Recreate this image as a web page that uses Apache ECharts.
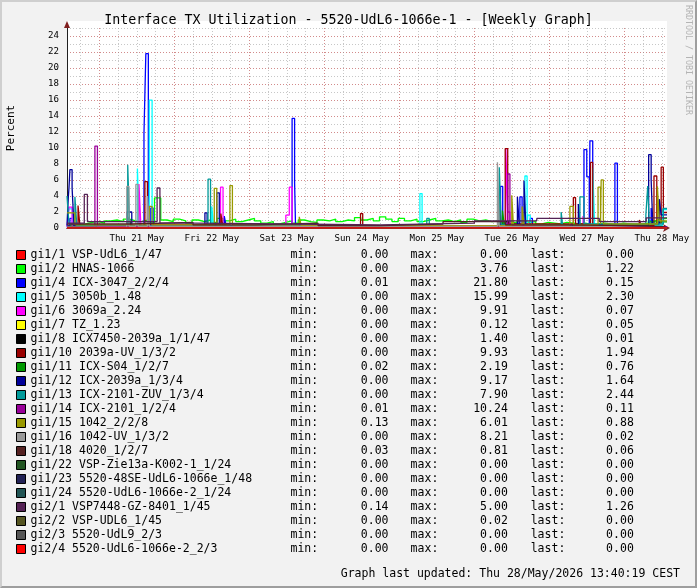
<!DOCTYPE html>
<html>
<head>
<meta charset="utf-8">
<script src="https://cdn.jsdelivr.net/npm/echarts@6/dist/echarts.min.js"></script>
<style>
html,body{margin:0;padding:0;background:#f2f2f2;}
#wrap{position:relative;width:697px;height:588px;}
#chart{width:697px;height:588px;}
#frame{position:absolute;left:0;top:0;width:697px;height:588px;box-sizing:border-box;border-style:solid;border-width:2px;border-color:#cfcfcf #9e9e9e #9e9e9e #cfcfcf;pointer-events:none;}
</style>
</head>
<body>
<div id="wrap"><div id="chart"></div><div id="frame"></div></div>
<script>
// x values are hours from Thu 21 May 00:00
const X_MIN = -10.33, X_MAX = 181.67
const dayLabels = ['Thu 21 May','Fri 22 May','Sat 23 May','Sun 24 May','Mon 25 May','Tue 26 May','Wed 27 May','Thu 28 May']
const noonHours = [12,36,60,84,108,132,156,180]
const midnightHours = [0,24,48,72,96,120,144,168]
const sixHourTicks = [-6,0,6,12,18,24,30,36,42,48,54,60,66,72,78,84,90,96,102,108,114,120,126,132,138,144,150,156,162,168,174,180]
const yLabelValues = [0,2,4,6,8,10,12,14,16,18,20,22,24]
const yMinorValues = [0,1,2,3,4,5,6,7,8,9,10,11,12,13,14,15,16,17,18,19,20,21,22,23,24,25]

const seriesNames = [
    'gi1/1 VSP-UdL6_1/47','gi1/2 HNAS-1066','gi1/4 ICX-3047_2/2/4','gi1/5 3050b_1.48',
    'gi1/6 3069a_2.24','gi1/7 TZ_1.23','gi1/8 ICX7450-2039a_1/1/47','gi1/10 2039a-UV_1/3/2',
    'gi1/11 ICX-S04_1/2/7','gi1/12 ICX-2039a_1/3/4','gi1/13 ICX-2101-ZUV_1/3/4','gi1/14 ICX-2101_1/2/4',
    'gi1/15 1042_2/2/8','gi1/16 1042-UV_1/3/2','gi1/18 4020_1/2/7','gi1/22 VSP-Zie13a-K002-1_1/24',
    'gi1/23 5520-48SE-UdL6-1066e_1/48','gi1/24 5520-UdL6-1066e-2_1/24','gi2/1 VSP7448-GZ-8401_1/45',
    'gi2/2 VSP-UDL6_1/45','gi2/3 5520-UdL9_2/3','gi2/4 5520-UdL6-1066e-2_2/3'
]
const seriesColors = [
    '#ff0000','#00ff00','#0000ff','#00ffff','#ff00ff','#ffff00','#000000','#990000',
    '#009900','#000099','#009999','#990099','#999900','#999999','#552222','#225522',
    '#222255','#225555','#552255','#555522','#555555','#ff0000'
]
const minText  = ['0.00','0.00','0.01','0.00','0.00','0.00','0.00','0.00','0.02','0.00','0.00','0.01','0.13','0.00','0.03','0.00','0.00','0.00','0.14','0.00','0.00','0.00']
const maxText  = ['0.00','3.76','21.80','15.99','9.91','0.12','1.40','9.93','2.19','9.17','7.90','10.24','6.01','8.21','0.81','0.00','0.00','0.00','5.00','0.02','0.00','0.00']
const lastText = ['0.00','1.22','0.15','2.30','0.07','0.05','0.01','1.94','0.76','1.64','2.44','0.11','0.88','0.02','0.06','0.00','0.00','0.00','1.26','0.00','0.00','0.00']

// gi1/2 read every 2 hours from the start of the graph
const greenStart = -10.33
const greenValues = [
    0.3,0.4,0.5,0.7,0.8,0.6,0.9,1.0,0.8,1.1,0.9,0.8,1.0,0.7,3.76,1.0,0.8,1.1,
    0.9,0.6,1.0,0.8,1.0,0.7,1.2,0.9,1.1,0.8,1.0,1.2,0.9,0.6,0.8,0.5,0.7,0.9,0.6,1.0,
    0.8,0.7,1.0,0.9,1.1,0.8,1.0,0.9,1.3,1.0,1.2,0.9,1.4,1.1,0.8,1.2,0.9,1.1,0.8,1.0,
    1.2,0.9,1.0,0.8,1.0,0.7,1.1,0.9,1.0,0.8,0.9,0.7,0.8,0.6,0.9,0.7,0.8,0.5,0.7,0.6,
    0.5,0.7,0.6,0.5,0.6,0.4,0.5,0.6,0.5,0.4,0.6,0.5,0.4,0.5,0.6,0.9,1.1,1.22
]

// other interfaces: [hour, value] where the value changes
const zeroLine = [[-10.33,0],[181.67,0]]
const gi1_4 = [[-10.33,0.3],[-9.4,1.2],[-8.6,0.2],[14.3,11.8],[14.9,21.8],[15.7,0.4],[16.5,2.5],[17.2,0.3],[40,1.5],[40.6,0.2],[61.7,13.7],[62.5,5.7],[62.8,0.2],[128.4,5.2],[129.1,0.5],[134.6,3.9],[135.3,0.3],[137.9,1.2],[138.6,0.2],[155.1,9.8],[156.0,6.4],[156.8,0.4],[157.0,10.9],[157.9,0.3],[165.0,8.1],[165.8,0.2],[176.6,2.5],[177.1,0.15],[181.67,0.15]]
const gi1_5 = [[-10.33,0.1],[-9.7,2.4],[-8.6,0.2],[12.2,7.45],[12.8,0.3],[16.0,15.99],[16.9,0.3],[36.0,2.7],[36.6,0.2],[102.6,4.3],[103.3,0.1],[136.2,6.5],[136.9,0.3],[137.1,1.6],[137.9,0.2],[157.9,7.5],[158.5,0.3],[180.2,2.3],[181.67,2.3]]
const gi1_6 = [[-10.33,0.1],[-9.7,2.6],[-8.7,0.2],[12.7,5.5],[13.3,0.3],[38.8,5.1],[39.6,0.2],[59.7,1.6],[60.8,5.1],[61.7,0.1],[130.1,9.91],[130.7,2.0],[131.4,0.3],[154.8,1.5],[155.4,0.1],[170,0.07],[181.67,0.07]]
const gi1_7 = [[-10.33,0.05],[40,0.12],[41,0.04],[181.67,0.05]]
const gi1_8 = [[-10.33,0.1],[9.5,1.4],[10.1,0.2],[130,0.8],[131,0.1],[180,0.01],[181.67,0.01]]
const gi1_10 = [[-10.33,0.2],[-6.8,2.8],[-6.2,0.3],[14.6,5.8],[15.4,0.4],[38.9,1.8],[39.5,0.3],[83.6,1.8],[84.3,0.2],[128.0,3.5],[128.6,0.4],[129.9,9.93],[130.7,0.5],[151.7,3.8],[152.4,0.5],[157.2,8.2],[157.9,0.4],[172.8,1.0],[173.4,0.3],[177.5,6.5],[178.4,0.6],[179.8,7.6],[180.5,1.94],[181.67,1.94]]
const gi1_11 = [[-10.33,0.2],[20,0.4],[60,0.2],[100,0.3],[129.0,2.19],[129.6,0.4],[160,0.3],[176,0.76],[181.67,0.76]]
const gi1_12 = [[-10.33,0.3],[-9.9,3.9],[-9.7,5.0],[-9.4,7.3],[-8.7,5.0],[-8.1,0.3],[8.8,2.0],[10.4,0.3],[33.8,1.9],[34.5,0.2],[37.6,4.4],[38.4,0.3],[133.8,3.9],[134.4,0.3],[135.9,5.9],[136.5,0.3],[153.3,3.0],[153.8,0.4],[175.8,9.17],[176.6,6.0],[177.1,0.5],[179.2,3.6],[179.8,1.64],[181.67,1.64]]
const gi1_13 = [[-10.33,4.0],[-9.7,0.5],[-7.8,3.9],[-7.2,0.3],[9.1,7.9],[9.7,0.3],[34.8,6.1],[35.6,0.3],[104.8,1.2],[105.6,0.1],[128.0,7.6],[128.6,0.4],[147.8,2.0],[148.3,0.2],[153.8,3.9],[155.1,0.5],[174.9,1.6],[175.5,5.25],[176.0,0.5],[180.5,2.44],[181.67,2.44]]
const gi1_14 = [[-10.33,0.1],[-1.4,10.24],[-0.6,0.2],[130.7,6.75],[131.4,0.3],[150,0.5],[151,0.1],[170,0.11],[181.67,0.11]]
const gi1_15 = [[-10.33,1.9],[-7.8,0.4],[16.0,2.7],[16.9,0.4],[36.8,4.96],[37.6,0.4],[41.8,5.3],[42.6,0.4],[64.0,1.4],[64.6,0.3],[132.0,4.1],[132.5,0.4],[135.3,2.7],[135.9,0.4],[150.6,2.7],[151.7,0.4],[159.6,5.1],[160.4,0.5],[160.6,6.01],[161.3,0.5],[178.6,5.2],[179.2,0.88],[181.67,0.88]]
const gi1_16 = [[-10.33,0.1],[8.8,5.2],[9.5,0.2],[11.7,5.45],[12.4,0.2],[15.4,4.0],[16.0,0.2],[127.4,8.21],[128.0,0.2],[160,0.02],[181.67,0.02]]
const gi1_18 = [[-10.33,0.5],[10,0.7],[30,0.4],[50,0.6],[70,0.3],[90,0.5],[110,0.8],[130,0.4],[150,0.3],[170,0.2],[180,0.06],[181.67,0.06]]
const gi2_1 = [[-10.33,0.6],[-4.8,4.2],[-3.8,0.8],[18.5,5.0],[19.4,0.6],[30,0.5],[60,0.4],[90,0.6],[120,0.9],[140,1.2],[160,0.8],[175,1.26],[181.67,1.26]]
const gi2_2 = [[-10.33,0],[100,0.02],[101,0],[181.67,0]]

const gi1_2 = greenValues.map((v, i) => [greenStart + 2 * i, v]).concat([[X_MAX, 1.22]])

const seriesData = [
    zeroLine, gi1_2, gi1_4, gi1_5, gi1_6, gi1_7, gi1_8, gi1_10, gi1_11, gi1_12, gi1_13,
    gi1_14, gi1_15, gi1_16, gi1_18, zeroLine, zeroLine, zeroLine, gi2_1, gi2_2, zeroLine, zeroLine
]

const FONT = 'DejaVu Sans Mono'
const gridGrey = 'rgba(143,143,143,0.5)'
const gridRed = 'rgba(222,79,79,0.5)'
const arrowRed = '#801f1f'

const chart = echarts.init(document.getElementById('chart'))
chart.setOption({
    animation: false,
    backgroundColor: '#f2f2f2',
    title: {
        text: 'Interface TX Utilization - 5520-UdL6-1066e-1 - [Weekly Graph]',
        left: 'center',
        top: 14,
        padding: 0,
        textStyle: { fontFamily: FONT, fontSize: 13.3, fontWeight: 'normal', color: '#000' }
    },
    grid: {
        left: 67, right: 30, top: 28, bottom: 360,
        show: true, backgroundColor: '#fff', borderWidth: 0,
        outerBoundsMode: 'none'
    },
    xAxis: [{
        type: 'value', min: X_MIN, max: X_MAX,
        axisLine: { show: true, onZero: false, lineStyle: { color: '#1f1f1f', width: 1 } },
        axisTick: { show: false, customValues: sixHourTicks },
        splitLine: { show: true, lineStyle: { color: gridGrey, type: [1, 2], width: 1 } },
        axisLabel: {
            customValues: noonHours,
            formatter: v => dayLabels[noonHours.indexOf(Math.round(v))],
            fontFamily: FONT, fontSize: 9.1, color: '#000', margin: 6
        }
    }, {
        type: 'value', min: X_MIN, max: X_MAX, position: 'bottom',
        axisLine: { show: true, onZero: false, symbol: ['none', 'arrow'], symbolSize: [6, 7], symbolOffset: [0, 3], lineStyle: { color: arrowRed, width: 1 } },
        axisTick: { show: false, customValues: midnightHours },
        axisLabel: { show: false },
        splitLine: { show: true, lineStyle: { color: gridRed, type: [1, 2], width: 1 } }
    }],
    yAxis: [{
        type: 'value', min: 0, max: 25,
        name: 'Percent', nameLocation: 'middle', nameGap: 50, nameRotate: 90,
        nameTextStyle: { fontFamily: FONT, fontSize: 11, color: '#000' },
        axisLine: { show: true, onZero: false, lineStyle: { color: '#1f1f1f', width: 1 } },
        axisTick: { show: false, customValues: yMinorValues },
        splitLine: { show: true, lineStyle: { color: gridGrey, type: [1, 2], width: 1 } },
        axisLabel: { customValues: yLabelValues, fontFamily: FONT, fontSize: 9.1, color: '#000', margin: 8 }
    }, {
        type: 'value', min: 0, max: 25, position: 'left',
        axisLine: { show: false, onZero: false },
        axisTick: { show: false, customValues: yLabelValues },
        axisLabel: { show: false },
        splitLine: { show: true, lineStyle: { color: gridRed, type: [1, 2], width: 1 } }
    }],
    legend: {
        orient: 'vertical',
        left: 16, top: 248, padding: 0,
        itemWidth: 9, itemHeight: 9, itemGap: 0,
        icon: 'rect',
        selectedMode: false,
        itemStyle: { borderColor: '#000', borderWidth: 1 },
        data: seriesNames,
        formatter: name => {
            const i = seriesNames.indexOf(name)
            return '{n|' + name + '}{a|min:}{b|' + minText[i] + '}{c|max:}{d|' + maxText[i] + '}{e|last:}{f|' + lastText[i] + '}'
        },
        textStyle: {
            fontFamily: FONT, fontSize: 11.5, color: '#000', lineHeight: 14,
            rich: {
                n: { width: 260, align: 'left', fontFamily: FONT, fontSize: 11.5, lineHeight: 14 },
                a: { width: 40, align: 'left', fontFamily: FONT, fontSize: 11.5, lineHeight: 14 },
                b: { width: 58, align: 'right', fontFamily: FONT, fontSize: 11.5, lineHeight: 14 },
                c: { width: 49.8, align: 'right', fontFamily: FONT, fontSize: 11.5, lineHeight: 14 },
                d: { width: 69.5, align: 'right', fontFamily: FONT, fontSize: 11.5, lineHeight: 14 },
                e: { width: 57.5, align: 'right', fontFamily: FONT, fontSize: 11.5, lineHeight: 14 },
                f: { width: 68.5, align: 'right', fontFamily: FONT, fontSize: 11.5, lineHeight: 14 }
            }
        }
    },
    graphic: [{
        // white canvas strip above the plot, under the y arrow
        type: 'rect', z: -1, silent: true,
        shape: { x: 67, y: 21, width: 600, height: 7 },
        style: { fill: '#fff' }
    }, {
        type: 'polygon', z: 10, silent: true,
        shape: { points: [[64, 28], [70, 28], [67, 21]] },
        style: { fill: arrowRed }
    }, {
        type: 'text', x: 680, y: 574,
        style: { text: 'Graph last updated: Thu 28/May/2026 13:40:19 CEST', fontFamily: FONT, fontSize: 11.5, fill: '#000', align: 'right', verticalAlign: 'middle' }
    }, {
        type: 'text', x: 692, y: 5, rotation: -Math.PI / 2,
        style: { text: 'RRDTOOL / TOBI OETIKER', fontFamily: FONT, fontSize: 8.3, fill: '#b4b4b4', align: 'left', verticalAlign: 'top' }
    }],
    series: seriesNames.map((name, i) => ({
        name: name,
        type: 'line',
        step: 'end',
        symbol: 'none',
        showSymbol: false,
        silent: true,
        xAxisIndex: 0,
        yAxisIndex: 0,
        data: seriesData[i],
        itemStyle: { color: seriesColors[i] },
        lineStyle: { width: 1.3, color: seriesColors[i] }
    }))
})
</script>
</body>
</html>
